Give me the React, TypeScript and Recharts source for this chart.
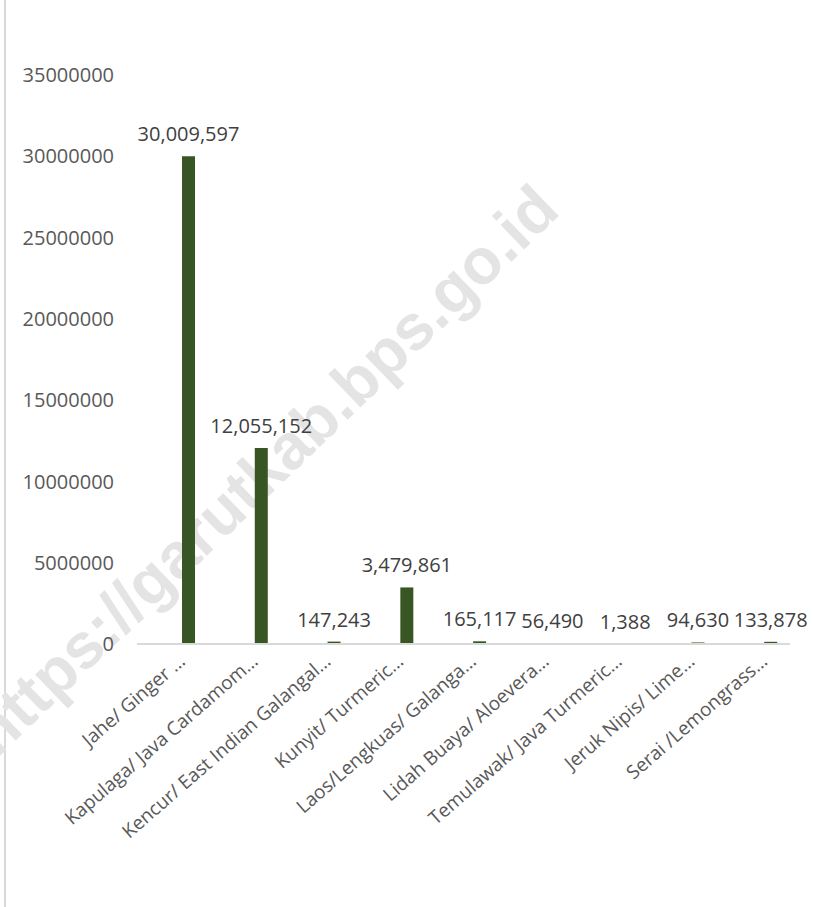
import { Bar, BarChart, LabelList, ReferenceLine, XAxis, YAxis } from "recharts";

const categories = [
  "Jahe/ Ginger …",
  "Kapulaga/ Java Cardamom…",
  "Kencur/ East Indian Galangal…",
  "Kunyit/ Turmeric…",
  "Laos/Lengkuas/ Galanga…",
  "Lidah Buaya/ Aloevera…",
  "Temulawak/ Java Turmeric…",
  "Jeruk Nipis/ Lime…",
  "Serai /Lemongrass…",
];

const production = [30009597, 12055152, 147243, 3479861, 165117, 56490, 1388, 94630, 133878];

const yTicks = [0, 5000000, 10000000, 15000000, 20000000, 25000000, 30000000, 35000000];

const data = categories.map((label, i) => ({ label, value: production[i] }));

const font = "'Open Sans', sans-serif";

function CategoryTick({ x, y, payload }: any) {
  const tx = x - 2;
  const ty = y + 11;
  return (
    <text x={tx} y={ty} transform={`rotate(-41, ${tx}, ${ty})`} textAnchor='end' fill='#595959' fontSize={19} fontFamily={font}>
      {payload.value}
    </text>
  );
}

// axis line in the original starts a bit left of the first band
function BaseLine(p: any) {
  return <line x1={p.x1 - 15} y1={p.y1} x2={p.x2 - 17} y2={p.y2} stroke='#d9d9d9' strokeWidth={2} />;
}

export default function App() {
  return (
    <div style={{ position: "absolute", left: 0, top: 0, width: 814, height: 907, background: "#fff", overflow: "hidden" }}>
      <div style={{ position: "absolute", left: 4, top: 0, width: 2, height: 907, background: "#d9d9d9" }} />
      <div
        style={{
          position: "absolute",
          left: 264,
          top: 470,
          transform: "translate(-50%, -50%) rotate(-44deg)",
          whiteSpace: "nowrap",
          fontFamily: "'Liberation Sans', Arial, sans-serif",
          fontWeight: 700,
          fontSize: 64,
          color: "#e4e4e4",
        }}
      >
        https://garutkab.bps.go.id
      </div>
      <div style={{ position: "absolute", left: 0, top: 0 }}>
        <BarChart width={814} height={907} data={data} margin={{ top: 75, right: 7, left: 0, bottom: 0 }} barSize={13}>
          <XAxis dataKey='label' interval={0} axisLine={false} tickLine={false} height={263} tick={<CategoryTick />} />
          <YAxis
            domain={[0, 35000000]}
            ticks={yTicks}
            axisLine={false}
            tickLine={false}
            width={152}
            tickMargin={32}
            tick={{ fontSize: 20, fill: "#595959", fontFamily: font }}
          />
          <ReferenceLine y={0} shape={<BaseLine />} />
          <Bar dataKey='value' fill='#375623' isAnimationActive={false}>
            <LabelList
              dataKey='value'
              position='top'
              offset={15}
              formatter={(v: any) => Number(v).toLocaleString("en-US")}
              style={{ fontSize: 20, fill: "#404040", fontFamily: font }}
            />
          </Bar>
        </BarChart>
      </div>
    </div>
  );
}
